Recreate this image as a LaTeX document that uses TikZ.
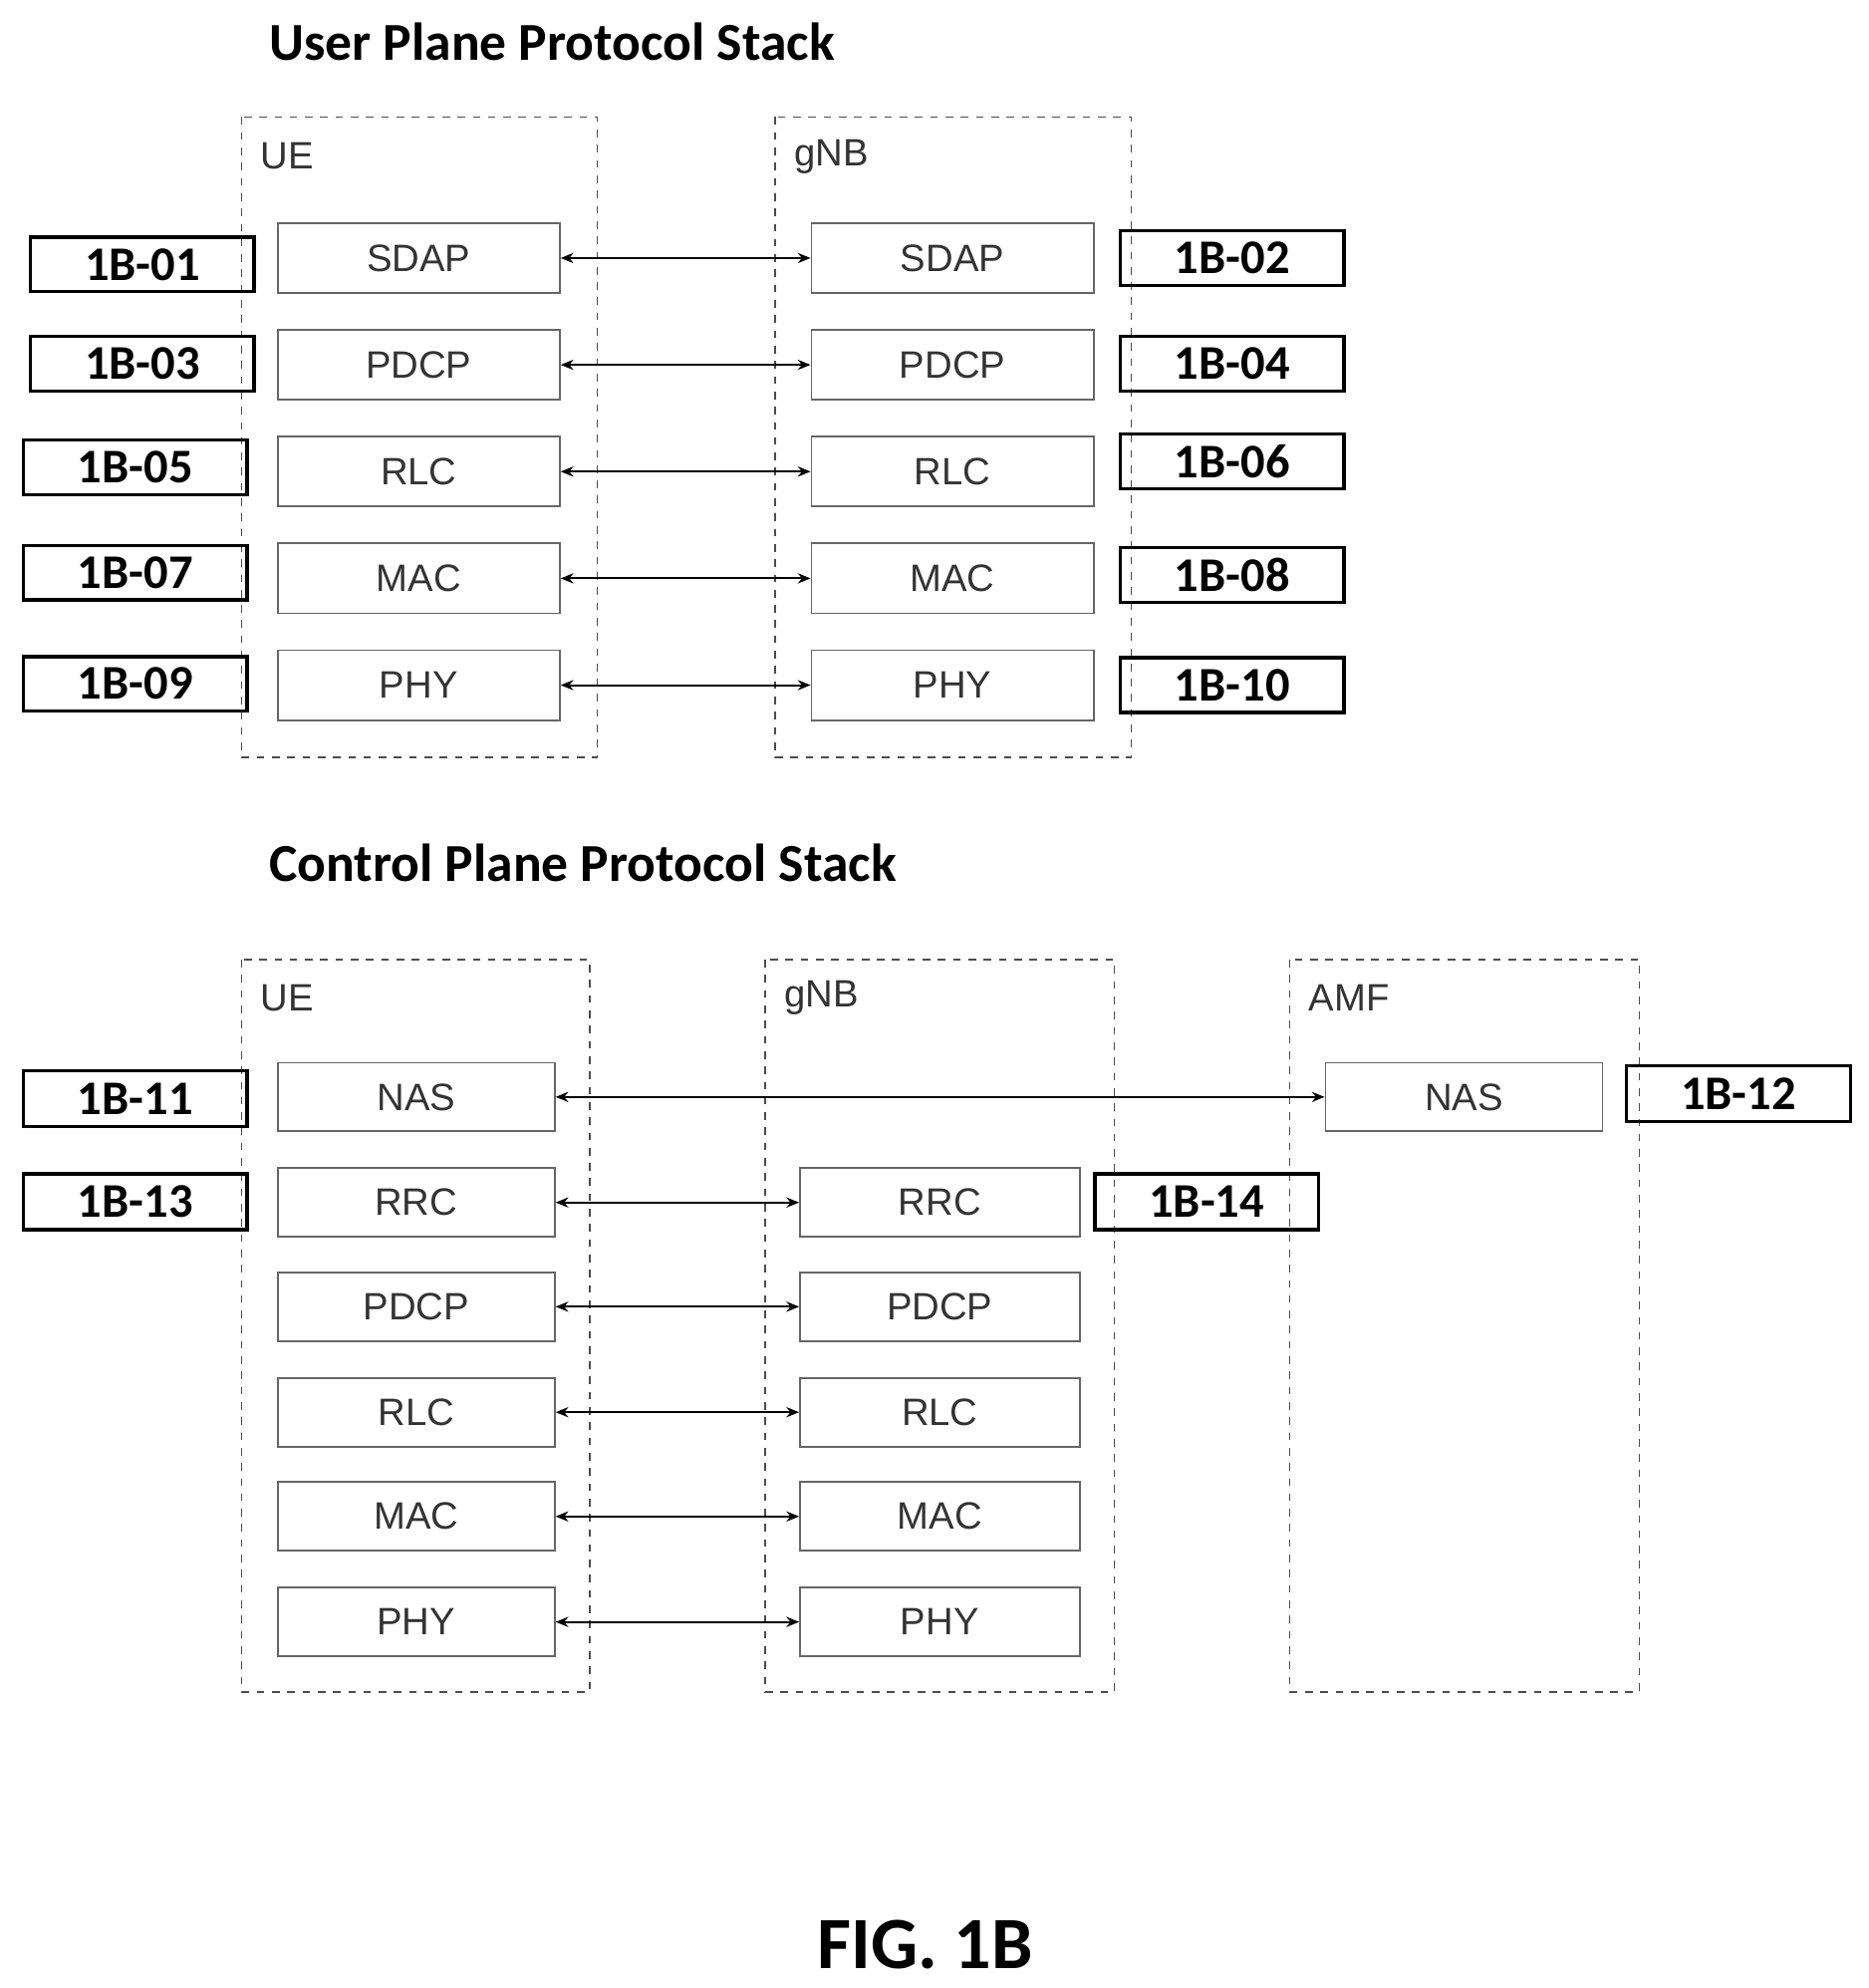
\documentclass[tikz,border=0pt]{standalone}
\usepackage{fontspec}
\setmainfont{Liberation Sans}
\newfontfamily\calfont{Carlito}
\usetikzlibrary{arrows.meta}
\begin{document}
\begin{tikzpicture}[x=0.5pt,y=-0.5pt,
  cont/.style={draw=black!70,dashed,line width=0.6pt},
  lay/.style={draw=black!60,line width=0.7pt,font=\fontsize{15}{18}\selectfont,text=black!80},
  tag/.style={draw=black,line width=1.3pt,font=\calfont\bfseries\fontsize{19}{23}\selectfont},
  ttl/.style={anchor=west,font=\calfont\bfseries\fontsize{21}{25}\selectfont},
  arr/.style={{Stealth[length=5pt,width=4pt]}-{Stealth[length=5pt,width=4pt]},line width=0.8pt},
  lbl/.style={anchor=west,font=\fontsize{15}{18}\selectfont,text=black!80}]
\useasboundingbox (0,0) rectangle (1470,1564);
% titles
\node[ttl] (t1) at (205,33) {User Plane Protocol Stack};
\node[ttl] (t2) at (205,679) {Control Plane Protocol Stack};
\node[font=\calfont\bfseries\fontsize{29}{34}\selectfont] (fig) at (728,1530) {FIG. 1B};
% user plane containers
\draw[cont] (190,92) rectangle (470,596);
\draw[cont] (610,92) rectangle (890,596);
\node[lbl] (ue1) at (198,123) {UE};
\node[lbl] (gnb1) at (618,123) {gNB};
\foreach \n/\y in {SDAP/203,PDCP/287,RLC/371,MAC/455,PHY/539}{
  \node[lay,minimum width=111pt,minimum height=27.5pt,inner sep=0pt] (ua\n) at (329.5,\y) {\n};
  \node[lay,minimum width=111pt,minimum height=27.5pt,inner sep=0pt] (ga\n) at (749.5,\y) {\n};
  \draw[arr] (ua\n.east) -- (ga\n.west);
}
\foreach \t/\x/\y in {01/112/208,03/112/286,05/106.5/367.5,07/106.5/450.5,09/106.5/538,
                      02/969.5/203,04/969.5/286,06/969.5/363,08/969.5/452.5,10/969.5/539}{
  \node[tag,minimum width=88pt,minimum height=21.5pt,inner sep=0pt] (l\t) at (\x,\y) {1B-\t};
}
% control plane containers
\draw[cont] (190,755) rectangle (464,1331);
\draw[cont] (602,755) rectangle (877,1331);
\draw[cont] (1015,755) rectangle (1290,1331);
\node[lbl] (ue2) at (198,785) {UE};
\node[lbl] (gnb2) at (610,785) {gNB};
\node[lbl] (amf) at (1023,785) {AMF};
\node[lay,minimum width=109pt,minimum height=27pt,inner sep=0pt] (ucNAS) at (327.5,863) {NAS};
\node[lay,minimum width=109pt,minimum height=27pt,inner sep=0pt] (acNAS) at (1152,863) {NAS};
\draw[arr] (ucNAS.east) -- (acNAS.west);
\foreach \n/\y in {RRC/946,PDCP/1028,RLC/1111,MAC/1193,PHY/1276}{
  \node[lay,minimum width=109pt,minimum height=27pt,inner sep=0pt] (uc\n) at (327.5,\y) {\n};
  \node[lay,minimum width=110pt,minimum height=27pt,inner sep=0pt] (gc\n) at (739.5,\y) {\n};
  \draw[arr] (uc\n.east) -- (gc\n.west);
}
\foreach \t/\x/\y in {11/106.5/864.5,13/106.5/945.5,12/1368/860.5,14/949.5/945.5}{
  \node[tag,minimum width=88pt,minimum height=22pt,inner sep=0pt] (l\t) at (\x,\y) {1B-\t};
}
\end{tikzpicture}
\end{document}
